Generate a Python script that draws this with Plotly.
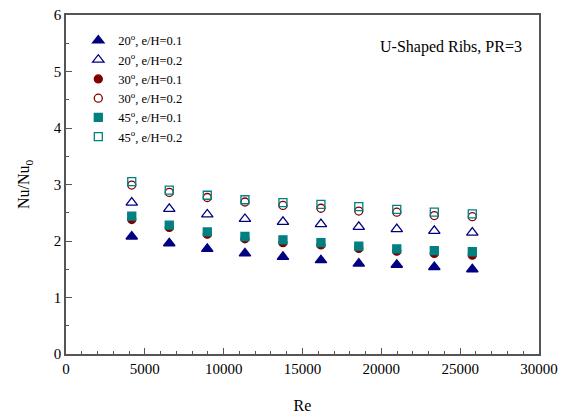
import plotly.graph_objects as go

re_vals = [4170, 6550, 8960, 11350, 13760, 16170, 18570, 20980, 23360, 25770]

nu_20_01 = [2.08, 1.96, 1.86, 1.78, 1.72, 1.66, 1.60, 1.58, 1.54, 1.50]
nu_20_02 = [2.68, 2.57, 2.47, 2.39, 2.34, 2.30, 2.25, 2.21, 2.18, 2.15]
nu_30_01 = [2.38, 2.24, 2.12, 2.04, 1.97, 1.93, 1.87, 1.82, 1.78, 1.75]
nu_30_02 = [2.99, 2.86, 2.77, 2.69, 2.63, 2.58, 2.53, 2.51, 2.45, 2.43]
nu_45_01 = [2.44, 2.28, 2.16, 2.08, 2.02, 1.97, 1.91, 1.86, 1.83, 1.81]
nu_45_02 = [3.05, 2.90, 2.81, 2.73, 2.68, 2.65, 2.61, 2.56, 2.51, 2.48]

series_names = [
    "20<sup>o</sup>, e/H=0.1",
    "20<sup>o</sup>, e/H=0.2",
    "30<sup>o</sup>, e/H=0.1",
    "30<sup>o</sup>, e/H=0.2",
    "45<sup>o</sup>, e/H=0.1",
    "45<sup>o</sup>, e/H=0.2",
]
series_values = [nu_20_01, nu_20_02, nu_30_01, nu_30_02, nu_45_01, nu_45_02]

x_ticks = [0, 5000, 10000, 15000, 20000, 25000, 30000]
x_ticklabels = ["0", "5000", "10000", "15000", "20000", "25000", "30000"]

NAVY = "#000080"
MAROON = "#800000"
TEAL = "#008080"

styles = [
    dict(symbol="triangle-up", color=NAVY, size=10),
    dict(symbol="triangle-up-open", color=NAVY, size=10),
    dict(symbol="circle", color=MAROON, size=8),
    dict(symbol="circle-open", color=MAROON, size=8),
    dict(symbol="square", color=TEAL, size=8),
    dict(symbol="square-open", color=TEAL, size=8),
]

fig = go.Figure()
for name, vals, st in zip(series_names, series_values, styles):
    fig.add_trace(go.Scatter(
        x=re_vals, y=vals, mode="markers", name=name,
        marker=dict(symbol=st["symbol"], color=st["color"], size=st["size"],
                    line=dict(color=st["color"], width=1.3)),
    ))

font = "Liberation Serif"
axis_common = dict(
    showline=True, linecolor="#555555", linewidth=1.5, mirror=True,
    ticks="inside", tickcolor="#555555", ticklen=6, tickwidth=1,
    showgrid=False, zeroline=False, automargin=False,
    ticklabeloverflow="allow",
    tickfont=dict(family=font, size=15, color="black"),
)

fig.update_layout(
    width=568, height=414,
    margin=dict(l=58, r=37, t=7, b=68),
    plot_bgcolor="white", paper_bgcolor="white",
    font=dict(family=font, size=14, color="black"),
    showlegend=True,
    legend=dict(x=0.026, y=0.968, xanchor="left", yanchor="top",
                font=dict(family=font, size=12.5, color="black"),
                bgcolor="rgba(0,0,0,0)", tracegroupgap=0),
    xaxis=dict(range=[0, 30000], tickvals=x_ticks, ticktext=x_ticklabels,
               minor=dict(ticks="inside", dtick=1000, ticklen=3, tickcolor="#555555"),
               title=dict(text="Re", font=dict(family=font, size=16), standoff=24),
               **axis_common),
    yaxis=dict(range=[0, 6], dtick=1,
               minor=dict(ticks="inside", dtick=0.5, ticklen=3, tickcolor="#555555"),
               title=dict(text="Nu/Nu<sub>0</sub>", font=dict(family=font, size=16), standoff=20),
               **axis_common),
    annotations=[dict(text="U-Shaped Ribs, PR=3", x=0.968, y=0.906, xref="paper", yref="paper",
                      xanchor="right", yanchor="middle", showarrow=False,
                      font=dict(family=font, size=16, color="black"))],
)

fig.write_html("out.html")
